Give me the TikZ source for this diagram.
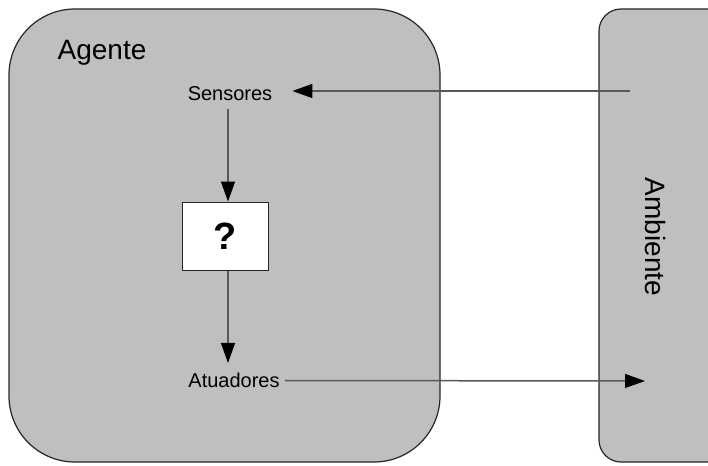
\documentclass[tikz,border=0pt]{standalone}
\usepackage{fontspec}
\setmainfont{Liberation Sans}
\usetikzlibrary{arrows.meta}

\begin{document}
\begin{tikzpicture}[x=1pt,y=-1pt]
\tikzstyle{every node}=[inner sep=0pt,font=\fontsize{20}{24}\selectfont];
\tikzstyle{caixa}=[draw=black!85,fill=black!25,line width=1.2pt];
\tikzstyle{seta}=[draw=black!65,line width=1.5pt,-{Triangle[length=20pt,width=14pt,color=black]}];
\useasboundingbox (0,0) rectangle (708,465);
\clip (0,0) rectangle (708,465);

% agente e ambiente
\draw[caixa,rounded corners=66pt] (9,9) rectangle (440,462);
\draw[caixa,rounded corners=22pt] (599,9) rectangle (760,462);

\node[font=\fontsize{28}{32}\selectfont] (agente) at (102,53) {Agente};
\node (sensores) at (230,93.5) {Sensores};
\node[draw=black!85,fill=white,line width=1pt,minimum width=86pt,minimum height=68pt,
  font=\fontsize{38}{40}\selectfont\bfseries] (q) at (225,236) {?};
\node (atuadores) at (234,380.5) {Atuadores};
\node[rotate=-90,font=\fontsize{28}{32}\selectfont] (ambiente) at (655,237) {Ambiente};
\coordinate (percepcao) at (630,91);
\coordinate (acao) at (645,381);

% setas
\draw[seta,shorten >=20pt] (percepcao) -- (percepcao -| sensores.east);
\draw[seta,shorten <=8pt] ([xshift=3pt]sensores.south -| q.north) -- ([xshift=3pt]q.north);
\draw[seta,shorten >=10pt] ([xshift=3pt]q.south) -- ([xshift=3pt]q.south |- atuadores.north);
\draw[seta,shorten <=5pt] (atuadores.east) -- (acao);
\end{tikzpicture}
\end{document}
